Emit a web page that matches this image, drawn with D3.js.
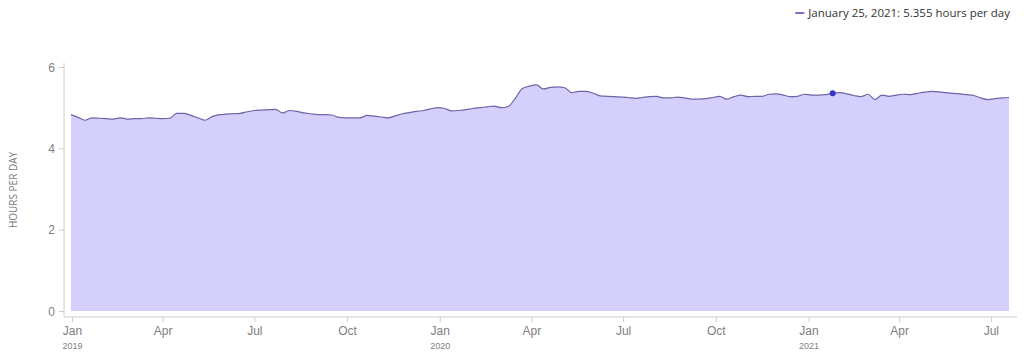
<!DOCTYPE html>
<html>
<head>
<meta charset="utf-8">
<script src="https://cdn.jsdelivr.net/npm/d3@7.9.0/dist/d3.min.js"></script>
<style>
  body { margin: 0; background: #fff; }
  svg { display: block; font-family: "Open Sans", "Noto Sans", sans-serif; }
  .tick text { fill: #808080; }
</style>
</head>
<body>
<svg id="chart" width="1024" height="356"></svg>
<script>
// weekly averages, one value per Monday from Dec 31, 2018 to Jul 19, 2021
const firstWeek = "2018-12-31";
const lastWeek = "2021-07-19";
const hours = [
  4.83, 4.76, 4.69, 4.75, 4.74, 4.73, 4.72, 4.75, 4.72, 4.73,
  4.73, 4.75, 4.74, 4.73, 4.74, 4.86, 4.86, 4.81, 4.75, 4.69,
  4.78, 4.83, 4.84, 4.85, 4.86, 4.90, 4.93, 4.94, 4.95, 4.96,
  4.87, 4.93, 4.91, 4.87, 4.85, 4.83, 4.83, 4.82, 4.76, 4.75,
  4.75, 4.75, 4.81, 4.79, 4.77, 4.75, 4.80, 4.85, 4.88, 4.91,
  4.93, 4.97, 5.00, 4.98, 4.92, 4.93, 4.95, 4.98, 5.00, 5.02,
  5.04, 5.00, 5.03, 5.23, 5.47, 5.53, 5.56, 5.46, 5.50, 5.51,
  5.49, 5.37, 5.40, 5.40, 5.36, 5.29, 5.28, 5.27, 5.26, 5.25,
  5.23, 5.25, 5.27, 5.28, 5.24, 5.24, 5.26, 5.24, 5.21, 5.21,
  5.22, 5.25, 5.28, 5.21, 5.27, 5.31, 5.27, 5.28, 5.28, 5.33,
  5.34, 5.31, 5.27, 5.28, 5.33, 5.31, 5.31, 5.32, 5.355, 5.37,
  5.34, 5.30, 5.27, 5.33, 5.20, 5.31, 5.28, 5.31, 5.33, 5.32,
  5.35, 5.38, 5.40, 5.39, 5.37, 5.35, 5.34, 5.32, 5.30, 5.24,
  5.20, 5.22, 5.24, 5.25
];
const yTicks = [0, 2, 4, 6];
const highlightDate = "2021-01-25";
const yTitle = "HOURS PER DAY";

const parse = d3.utcParse("%Y-%m-%d");
const weeks = d3.utcMonday.range(parse(firstWeek), d3.utcDay.offset(parse(lastWeek), 1));
const data = weeks.map((d, i) => ({ date: d, value: hours[i] }));

const svg = d3.select("#chart");

const x = d3.scaleUtc()
  .domain([parse(firstWeek), parse(lastWeek)])
  .range([71, 1009]);

const y = d3.scaleLinear()
  .domain([0, 6])
  .range([311, 67]);

const area = d3.area()
  .x((d) => x(d.date))
  .y0(y(0))
  .y1((d) => y(d.value))
  .curve(d3.curveMonotoneX);

const line = d3.line()
  .x((d) => x(d.date))
  .y((d) => y(d.value))
  .curve(d3.curveMonotoneX);

svg.append("path")
  .datum(data)
  .attr("d", area)
  .attr("fill", "#d4d0fb");

svg.append("path")
  .datum(data)
  .attr("d", line)
  .attr("fill", "none")
  .attr("stroke", "#6d64a8")
  .attr("stroke-width", 1.2);

// y axis
const yAxis = svg.append("g")
  .attr("transform", "translate(64,0)")
  .call(d3.axisLeft(y).tickValues(yTicks).tickFormat(d3.format("d")).tickSize(5).tickPadding(4));
yAxis.select(".domain").remove();
yAxis.selectAll(".tick line").attr("stroke", "#ccc");
yAxis.selectAll(".tick text").attr("font-size", 12).attr("dy", "0.34em");
svg.append("line")
  .attr("x1", 64).attr("x2", 64)
  .attr("y1", 63).attr("y2", 317)
  .attr("stroke", "#ccc");

svg.append("text")
  .attr("transform", "translate(17,190) rotate(-90)")
  .attr("text-anchor", "middle")
  .attr("font-size", 10)
  .attr("fill", "#777")
  .text(yTitle);

// x axis
const xAxis = svg.append("g")
  .attr("transform", "translate(0,317)")
  .call(d3.axisBottom(x)
    .ticks(d3.utcMonth.every(3))
    .tickSize(5)
    .tickPadding(4)
    .tickFormat(d3.utcFormat("%b")));
xAxis.select(".domain").remove();
xAxis.selectAll(".tick line").attr("stroke", "#ccc");
xAxis.selectAll(".tick text").attr("font-size", 12);
xAxis.selectAll(".tick")
  .filter((d) => d.getUTCMonth() === 0)
  .append("text")
  .attr("y", 32)
  .attr("fill", "#808080")
  .attr("font-size", 9)
  .text((d) => d.getUTCFullYear());
svg.append("line")
  .attr("x1", 64).attr("x2", 1017)
  .attr("y1", 317).attr("y2", 317)
  .attr("stroke", "#ccc");

// highlighted point
const hi = data.find((d) => +d.date === +parse(highlightDate));
svg.append("circle")
  .attr("cx", x(hi.date))
  .attr("cy", y(hi.value))
  .attr("r", 3)
  .attr("fill", "#3535c8");

// legend
const legendText = svg.append("text")
  .attr("x", 1010)
  .attr("y", 17)
  .attr("text-anchor", "end")
  .attr("font-size", 11.5)
  .attr("fill", "#333")
  .text(`${d3.utcFormat("%B %-d, %Y")(hi.date)}: ${d3.format(".3f")(hi.value)} hours per day`);
const tw = legendText.node().getComputedTextLength();
svg.append("line")
  .attr("x1", 1010 - tw - 13).attr("x2", 1010 - tw - 4)
  .attr("y1", 13).attr("y2", 13)
  .attr("stroke", "#7b72c0")
  .attr("stroke-width", 2);
</script>
</body>
</html>
